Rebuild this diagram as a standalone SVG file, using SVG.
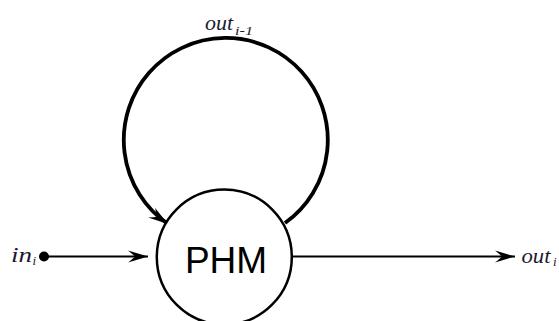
<svg xmlns="http://www.w3.org/2000/svg" width="559" height="321" viewBox="0 0 559 321">
<style>
.lbl{font-family:"Liberation Serif",serif;font-style:italic;font-size:22px;fill:#1a1a2e}
.sub{font-family:"Liberation Serif",serif;font-style:italic;font-size:13px;fill:#1a1a2e}
.edge{fill:none;stroke:#000}
</style>
<defs>
<marker id="arr" viewBox="-21 -7 22 14" markerWidth="22" markerHeight="14" refX="0" refY="0" orient="auto" markerUnits="userSpaceOnUse">
<path d="M0,0 L-20,-6 Q-15,-2 -13,0 Q-15,2 -20,6 Z" fill="#000"/>
</marker>
</defs>
<rect width="559" height="321" fill="#fff"/>
<g id="connectors">
<circle cx="44" cy="256.5" r="5" fill="#000"/>
<path class="edge" d="M44,256.5 H148" stroke-width="2" marker-end="url(#arr)"/>
<path class="edge" d="M292,256.5 H515" stroke-width="2" marker-end="url(#arr)"/>
<path class="edge" d="M285,223 A102,102 0 1,0 168,224" stroke-width="3.8" marker-end="url(#arr)"/>
</g>
<g id="phm">
<circle cx="224.3" cy="257" r="67.5" fill="#fff" stroke="#000" stroke-width="2.5"/>
<text x="226" y="272.5" font-family="Liberation Sans, Arial, sans-serif" font-size="37" text-anchor="middle" fill="#000">PHM</text>
</g>
<g id="labels">
<text class="lbl" x="11" y="262" textLength="21" lengthAdjust="spacingAndGlyphs">in</text><text class="sub" x="32.5" y="265">i</text>
<text class="lbl" x="521.5" y="263" textLength="29" lengthAdjust="spacingAndGlyphs">out</text><text class="sub" x="553" y="266">i</text>
<text class="lbl" x="205" y="30" textLength="28" lengthAdjust="spacingAndGlyphs">out</text><text class="sub" x="235" y="35" textLength="18" lengthAdjust="spacingAndGlyphs">i-1</text>
</g>
</svg>
